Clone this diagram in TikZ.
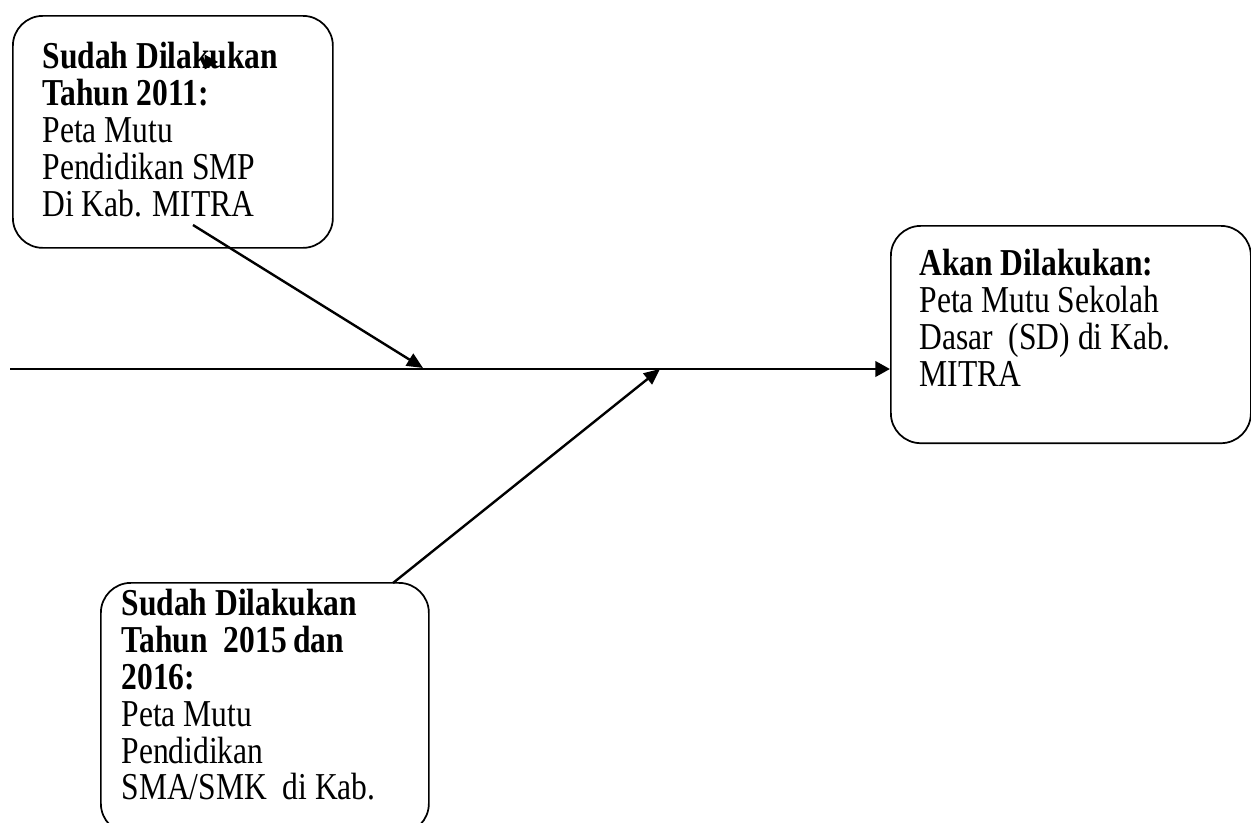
\documentclass[tikz,border=0pt]{standalone}
\usepackage{fontspec}
\setmainfont{Liberation Serif}[FakeStretch=0.83]
\usetikzlibrary{arrows.meta}

\tikzset{every picture/.style={line width=0.75pt}}
\tikzset{
  kotak/.style={draw, rounded corners=22.5pt, line width=1.3pt, inner sep=0pt, anchor=north west},
  isi/.style={anchor=north west, align=left, inner sep=0pt, font=\fontsize{28.5}{27.6}\selectfont},
  panah/.style={line width=1.8pt, -{Triangle[length=12pt,width=10.5pt]}}
}

\begin{document}
\begin{tikzpicture}[x=0.75pt,y=0.75pt,yscale=-1,xscale=1]
\useasboundingbox (0,0) rectangle (1251,822);
%Rounded Rect 2011
\node [kotak, minimum width=240pt, minimum height=174pt] (smp) at (12,15) {};
% Text Node
\node [isi] (tsmp) at (42,42) {\textbf{Sudah Dilakukan}\\\textbf{Tahun 2011:}\\Peta Mutu\\Pendidikan SMP\\Di Kab. MITRA};
%Rounded Rect akan
\node [kotak, minimum width=270pt, minimum height=163pt] (sd) at (890,225) {};
% Text Node
\node [isi] (tsd) at (919,249) {\textbf{Akan Dilakukan:}\\Peta Mutu Sekolah\\Dasar\ \ (SD) di Kab.\\MITRA};
%Rounded Rect 2015
\node [kotak, minimum width=246pt, minimum height=188pt] (sma) at (100,582) {};
% Text Node
\node [isi] (tsma) at (121,589) {\textbf{Sudah Dilakukan}\\\textbf{Tahun\ \ 2015\,dan}\\\textbf{2016:}\\Peta Mutu\\Pendidikan\\SMA/SMK\ \ di Kab.};

%Straight Lines
\coordinate (ekor) at (10,369);
\draw [line width=2.2pt, -{Triangle[length=11pt,width=11.5pt]}] (ekor) -- (ekor -| sd.west);
%Straight Lines
\coordinate (s1) at (193,225);
\coordinate (j1) at (423,368);
\draw [panah] (s1) -- (j1);
%Straight Lines
\coordinate (s2) at (393,583);
\coordinate (j2) at (660,369);
\draw [panah] (s2) -- (j2);
%Straight Lines
\coordinate (u1) at (202,62);
\draw [line width=0.5pt, -{Triangle[length=10pt,width=11pt]}] (u1) -- ++(16,0);
\end{tikzpicture}
\end{document}
